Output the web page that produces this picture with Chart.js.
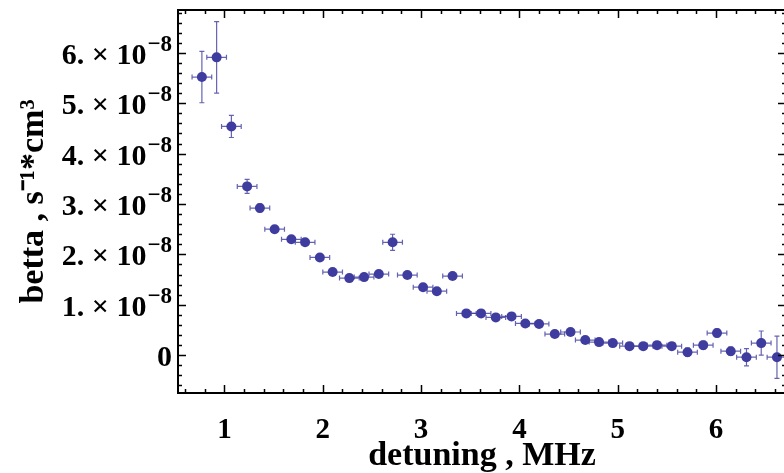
<!DOCTYPE html>
<html>
<head>
<meta charset="utf-8">
<script src="https://cdn.jsdelivr.net/npm/chart.js@4/dist/chart.umd.min.js"></script>
<style>
  html, body { margin: 0; padding: 0; background: #fff; overflow: hidden; }
  #wrap { width: 784px; height: 473px; overflow: hidden; }
</style>
</head>
<body>
<div id="wrap"><canvas id="betaChart" width="800" height="473"></canvas></div>
<script>
// detuning, MHz
const detuning = [0.77, 0.92, 1.07, 1.23, 1.36, 1.51, 1.68, 1.82, 1.97, 2.10,
                  2.27, 2.42, 2.57, 2.71, 2.86, 3.02, 3.16, 3.32, 3.46, 3.61,
                  3.76, 3.92, 4.06, 4.20, 4.36, 4.52, 4.67, 4.81, 4.95, 5.12,
                  5.26, 5.40, 5.55, 5.71, 5.87, 6.01, 6.15, 6.31, 6.46, 6.62];
// betta in units of 1e-8 s^-1*cm^3
const betta = [5.52, 5.91, 4.54, 3.35, 2.92, 2.50, 2.30, 2.24, 1.94, 1.65,
               1.53, 1.55, 1.61, 2.24, 1.59, 1.35, 1.27, 1.57, 0.83, 0.83,
               0.75, 0.77, 0.63, 0.62, 0.42, 0.46, 0.30, 0.26, 0.24, 0.18,
               0.18, 0.20, 0.18, 0.06, 0.20, 0.44, 0.08, -0.04, 0.24, -0.04];
const bettaErr = [0.51, 0.71, 0.22, 0.14, 0.08, 0.06, 0.06, 0.06, 0.06, 0.06,
                  0.06, 0.06, 0.06, 0.16, 0.06, 0.06, 0.06, 0.06, 0.05, 0.05,
                  0.05, 0.05, 0.05, 0.05, 0.05, 0.05, 0.05, 0.05, 0.05, 0.05,
                  0.05, 0.05, 0.05, 0.08, 0.08, 0.08, 0.08, 0.17, 0.24, 0.42];
const detuningErr = 0.1;

const xTicks = [1, 2, 3, 4, 5, 6];
const yTicks = [0, 1, 2, 3, 4, 5, 6];

const pointColor = 'rgb(62, 60, 158)';
const serif = "'Liberation Serif', 'Times New Roman', serif";

// error bars, drawn under the points
const errorBars = {
  id: 'errorBars',
  beforeDatasetsDraw(chart) {
    const { ctx, scales: { x, y } } = chart;
    const cap = 2.5;
    ctx.save();
    ctx.strokeStyle = 'rgba(62, 60, 158, 0.8)';
    ctx.lineWidth = 1.2;
    detuning.forEach((d, i) => {
      const px = x.getPixelForValue(d);
      const py = y.getPixelForValue(betta[i]);
      const y1 = y.getPixelForValue(betta[i] - bettaErr[i]);
      const y2 = y.getPixelForValue(betta[i] + bettaErr[i]);
      const x1 = x.getPixelForValue(d - detuningErr);
      const x2 = x.getPixelForValue(d + detuningErr);
      ctx.beginPath();
      ctx.moveTo(px, y1); ctx.lineTo(px, y2);
      ctx.moveTo(px - cap, y1); ctx.lineTo(px + cap, y1);
      ctx.moveTo(px - cap, y2); ctx.lineTo(px + cap, y2);
      ctx.moveTo(x1, py); ctx.lineTo(x2, py);
      ctx.moveTo(x1, py - cap); ctx.lineTo(x1, py + cap);
      ctx.moveTo(x2, py - cap); ctx.lineTo(x2, py + cap);
      ctx.stroke();
    });
    ctx.restore();
  }
};

// Mathematica-like frame with inward ticks, plus the "n. × 10⁻⁸" y labels
const frameTicks = {
  id: 'frameTicks',
  afterDraw(chart) {
    const { ctx, chartArea: a, scales: { x, y } } = chart;
    ctx.save();
    ctx.strokeStyle = '#000';
    ctx.lineWidth = 1.5;
    ctx.beginPath();
    for (let k = Math.ceil(x.min * 5); k <= Math.floor(x.max * 5); k++) {
      const px = Math.round(x.getPixelForValue(k / 5)) + 0.5;
      const len = k % 5 === 0 ? 8 : 4;
      ctx.moveTo(px, a.bottom); ctx.lineTo(px, a.bottom - len);
      ctx.moveTo(px, a.top); ctx.lineTo(px, a.top + len);
    }
    for (let k = Math.ceil(y.min * 5); k <= Math.floor(y.max * 5); k++) {
      const py = Math.round(y.getPixelForValue(k / 5)) + 0.5;
      const len = k % 5 === 0 ? 8 : 4;
      ctx.moveTo(a.left, py); ctx.lineTo(a.left + len, py);
      ctx.moveTo(a.right, py); ctx.lineTo(a.right - len, py);
    }
    ctx.stroke();
    ctx.lineWidth = 2;
    ctx.strokeRect(a.left, a.top, a.right - a.left, a.bottom - a.top);

    // y tick labels with a real superscript
    ctx.fillStyle = '#000';
    ctx.textBaseline = 'alphabetic';
    ctx.textAlign = 'left';
    const right = a.left - 6;
    y.ticks.forEach(t => {
      const py = y.getPixelForValue(t.value);
      const base = t.value === 0 ? '0' : t.value + '. × 10';
      const sup = t.value === 0 ? '' : '−8';
      ctx.font = `bold 23px ${serif}`;
      const supW = ctx.measureText(sup).width;
      ctx.font = `bold 30px ${serif}`;
      const baseW = ctx.measureText(base).width;
      const baseline = py + 11;
      ctx.fillText(base, right - supW - baseW - (sup ? 1 : 0), baseline);
      if (sup) {
        ctx.font = `bold 23px ${serif}`;
        ctx.fillText(sup, right - supW, baseline - 13);
      }
    });
    ctx.restore();
  }
};

const ctx = document.getElementById('betaChart').getContext('2d');
new Chart(ctx, {
  type: 'scatter',
  data: {
    datasets: [{
      data: detuning.map((d, i) => ({ x: d, y: betta[i] })),
      backgroundColor: pointColor,
      borderColor: pointColor,
      borderWidth: 0,
      pointRadius: 5,
      pointHoverRadius: 5
    }]
  },
  options: {
    responsive: false,
    animation: false,
    layout: { padding: { top: 10, right: 14, left: 0, bottom: 0 } },
    plugins: { legend: { display: false }, tooltip: { enabled: false } },
    scales: {
      x: {
        type: 'linear',
        min: 0.527,
        max: 6.712,
        grid: { display: false, drawTicks: false },
        border: { display: false },
        afterBuildTicks: (s) => { s.ticks = xTicks.map(v => ({ value: v })); },
        afterFit: (s) => { s.height = 80; s.paddingLeft = 0; s.paddingRight = 0; },
        ticks: {
          padding: 20,
          color: '#000',
          font: { family: serif, size: 29, weight: 'bold' }
        },
        title: {
          display: true,
          text: 'detuning , MHz',
          color: '#000',
          padding: 0,
          font: { family: serif, size: 34, weight: 'bold', lineHeight: 1 }
        }
      },
      y: {
        type: 'linear',
        min: -0.75,
        max: 6.85,
        grid: { display: false, drawTicks: false },
        border: { display: false },
        afterBuildTicks: (s) => { s.ticks = yTicks.map(v => ({ value: v })); },
        afterFit: (s) => { s.width = 178; s.paddingTop = 0; s.paddingBottom = 0; },
        ticks: { display: false },
        title: {
          display: true,
          text: 'betta , s⁻¹*cm³',
          color: '#000',
          padding: 17,
          font: { family: serif, size: 34, weight: 'bold', lineHeight: 1 }
        }
      }
    }
  },
  plugins: [errorBars, frameTicks]
});
</script>
</body>
</html>
